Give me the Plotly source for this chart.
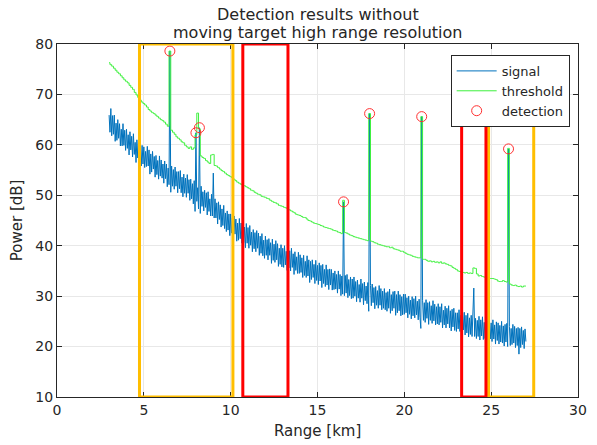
import plotly.graph_objects as go

# ---------------- data ----------------
SIGNAL_START_KM = 3.0
SIGNAL_STEP_KM = 0.05
THRESHOLD_START_KM = 3.0
THRESHOLD_STEP_KM = 0.1

SIGNAL_DB = [
    # 3.00 - 3.95
    65.9, 62.5, 67.2, 61.8, 65.8, 62.1, 65.9, 60.7, 64.3, 60.9,
    65.0, 61.3, 64.2, 59.8, 63.1, 59.8, 64.2, 59.9, 62.9, 58.9,
    # 4.00 - 4.95
    63.1, 59.3, 62.0, 58.0, 62.6, 59.0, 61.7, 57.6, 62.2, 58.1,
    60.5, 56.5, 61.0, 57.4, 61.0, 56.5, 59.8, 55.8, 59.9, 56.2,
    # 5.00 - 5.95
    59.6, 55.5, 58.7, 55.7, 59.7, 55.8, 59.0, 54.2, 58.2, 54.6,
    58.7, 55.2, 57.7, 53.6, 57.9, 54.1, 56.9, 53.2, 57.8, 53.8,
    # 6.00 - 6.95
    57.0, 53.4, 56.2, 52.4, 56.8, 53.3, 56.2, 51.7, 55.4, 52.1,
    78.6, 50.6, 55.8, 51.8, 55.1, 51.2, 55.6, 51.8, 54.7, 50.5,
    # 7.00 - 7.95
    54.7, 51.3, 54.9, 50.5, 53.6, 49.7, 54.2, 50.4, 53.4, 49.6,
    54.1, 50.4, 53.1, 49.0, 53.2, 49.3, 52.3, 48.3, 52.9, 46.8,
    # 8.00 - 8.95
    62.4, 48.8, 51.5, 47.3, 63.4, 46.4, 51.8, 47.8, 50.7, 46.9,
    51.0, 47.6, 50.5, 46.1, 50.7, 46.8, 49.3, 45.9, 50.2, 45.9,
    # 9.00 - 9.95
    54.4, 45.5, 49.3, 45.5, 48.5, 44.3, 48.7, 45.2, 48.1, 43.7,
    47.3, 44.0, 48.0, 43.4, 46.5, 42.8, 46.9, 43.1, 46.3, 42.0,
    # 10.00 - 10.95
    46.3, 42.5, 45.5, 41.5, 45.9, 42.3, 45.3, 40.9, 44.5, 41.1,
    45.4, 41.4, 44.5, 40.5, 44.5, 40.6, 43.7, 39.6, 44.4, 40.5,
    # 11.00 - 11.95
    43.6, 39.5, 44.0, 40.1, 42.7, 38.8, 43.2, 39.4, 42.6, 38.8,
    43.0, 39.5, 42.5, 38.1, 41.9, 38.5, 42.4, 38.0, 41.1, 37.5,
    # 12.00 - 12.95
    41.9, 38.1, 41.2, 37.2, 41.4, 38.1, 40.6, 36.5, 41.3, 37.1,
    40.3, 36.7, 41.0, 37.2, 40.4, 35.9, 39.5, 36.3, 40.2, 35.8,
    # 13.00 - 13.95
    39.5, 35.7, 40.0, 36.2, 38.9, 35.1, 39.4, 35.6, 39.0, 35.0,
    39.5, 35.7, 38.4, 34.3, 38.8, 35.1, 37.8, 34.5, 38.7, 34.5,
    # 14.00 - 14.95
    38.2, 34.7, 37.6, 33.7, 38.1, 34.1, 36.9, 33.7, 38.0, 34.0,
    37.2, 32.7, 36.9, 33.3, 37.2, 33.7, 36.3, 32.5, 37.1, 33.1,
    # 15.00 - 15.95
    36.1, 32.3, 36.6, 33.0, 36.1, 31.7, 36.3, 32.5, 35.3, 31.9,
    36.2, 32.2, 35.3, 31.3, 35.4, 32.2, 35.3, 31.2, 34.6, 31.3,
    # 16.00 - 16.95
    35.0, 31.4, 34.3, 30.6, 35.0, 31.4, 34.3, 30.1, 34.0, 30.4,
    48.7, 30.1, 34.1, 30.6, 34.3, 29.7, 33.3, 30.1, 33.8, 29.5,
    # 17.00 - 17.95
    33.4, 29.6, 33.8, 30.0, 32.9, 28.9, 33.2, 29.6, 32.3, 28.8,
    33.4, 29.6, 32.5, 28.3, 32.8, 29.1, 32.0, 28.5, 32.7, 27.0,
    # 18.00 - 18.95
    66.2, 32.1, 28.1, 32.4, 28.7, 31.7, 27.5, 31.9, 28.2, 31.1,
    27.6, 32.1, 28.2, 31.5, 27.3, 31.0, 27.6, 31.5, 27.3, 30.7,
    # 19.00 - 19.95
    27.0, 30.9, 27.6, 31.4, 26.6, 30.3, 27.1, 30.9, 27.6, 31.0,
    26.2, 30.3, 26.7, 31.0, 27.1, 30.3, 26.1, 29.9, 26.3, 30.4,
    # 20.00 - 20.95
    26.4, 30.4, 26.7, 29.7, 25.7, 30.0, 26.4, 29.2, 25.5, 29.9,
    26.1, 29.5, 25.7, 30.0, 26.3, 29.0, 25.3, 29.4, 25.8, 23.6,
    # 21.00 - 21.95
    65.6, 29.2, 25.2, 28.7, 24.8, 29.3, 25.6, 28.7, 24.4, 28.9,
    25.2, 28.1, 24.6, 29.1, 25.1, 28.4, 24.3, 27.9, 24.5, 28.5,
    # 22.00 - 22.95
    24.3, 27.9, 24.8, 28.5, 23.7, 27.2, 24.3, 28.0, 23.7, 27.6,
    24.5, 28.1, 23.7, 27.1, 23.1, 27.4, 23.9, 27.6, 23.2, 26.7,
    # 23.00 - 23.95
    23.0, 26.7, 23.5, 27.3, 23.0, 26.2, 22.5, 26.7, 23.3, 26.8,
    22.3, 26.2, 22.7, 26.6, 21.9, 25.7, 22.4, 26.2, 22.0, 25.8,
    # 24.00 - 24.95
    31.6, 22.0, 25.6, 21.6, 25.2, 22.0, 26.0, 21.3, 25.3, 22.1,
    25.9, 21.4, 24.8, 21.6, 25.8, 21.2, 25.1, 20.8, 24.7, 21.5,
    # 25.00 - 25.95
    24.7, 21.0, 25.3, 21.5, 24.3, 20.5, 24.9, 21.2, 24.7, 20.5,
    24.2, 20.9, 25.0, 20.7, 24.1, 20.1, 24.4, 20.9, 24.6, 20.0,
    # 26.00 - 26.95
    59.2, 24.0, 20.2, 23.6, 20.4, 24.4, 20.7, 24.0, 19.8, 23.6,
    20.2, 23.8, 18.5, 23.6, 19.8, 23.9, 20.4, 23.2, 19.6, 23.5,
    # 27.00
    21.0,
]

THRESHOLD_DB = [
    # 3.0 - 3.9
    76.3, 75.9, 75.6, 75.2, 74.8, 74.4, 74.1, 73.7, 73.3, 72.9,
    # 4.0 - 4.9
    72.6, 72.3, 71.8, 71.4, 71.0, 70.4, 69.9, 69.4, 68.9, 68.5,
    # 5.0 - 5.9
    68.2, 67.9, 67.5, 67.0, 66.7, 66.4, 66.2, 65.9, 65.6, 65.3,
    # 6.0 - 6.9
    65.0, 64.8, 64.5, 64.1, 63.7, 78.6, 62.9, 62.5, 62.1, 61.6,
    # 7.0 - 7.9
    61.3, 61.0, 60.6, 60.4, 59.9, 59.6, 59.3, 59.6, 59.1, 59.4,
    # 8.0 - 8.9
    62.0, 66.3, 63.2, 57.8, 57.5, 57.3, 56.9, 56.6, 56.3, 58.0,
    # 9.0 - 9.9
    58.1, 55.9, 55.8, 55.5, 55.2, 54.9, 54.7, 54.4, 54.1, 53.9,
    # 10.0 - 10.9
    53.7, 53.5, 53.2, 52.9, 52.6, 52.4, 52.2, 52.0, 51.9, 51.7,
    # 11.0 - 11.9
    51.5, 51.3, 51.0, 50.9, 50.6, 50.4, 50.2, 50.1, 49.8, 49.7,
    # 12.0 - 12.9
    49.6, 49.4, 49.3, 49.0, 48.8, 48.6, 48.5, 48.3, 48.0, 47.9,
    # 13.0 - 13.9
    47.8, 47.6, 47.5, 47.3, 47.1, 46.9, 46.7, 46.5, 46.2, 46.1,
    # 14.0 - 14.9
    46.0, 45.8, 45.6, 45.6, 45.3, 45.0, 44.9, 44.7, 44.5, 44.4,
    # 15.0 - 15.9
    44.3, 44.2, 44.0, 43.9, 43.7, 43.6, 43.5, 43.4, 43.3, 43.1,
    # 16.0 - 16.9
    43.0, 42.9, 42.7, 42.6, 42.4, 49.0, 42.6, 42.5, 42.3, 42.1,
    # 17.0 - 17.9
    42.0, 41.8, 41.7, 41.6, 41.5, 41.4, 41.3, 41.2, 41.1, 41.0,
    # 18.0 - 18.9
    66.2, 40.9, 40.8, 40.6, 40.5, 40.3, 40.2, 40.1, 40.0, 39.9,
    # 19.0 - 19.9
    39.8, 39.8, 39.6, 39.7, 39.4, 39.3, 39.2, 39.1, 38.9, 38.9,
    # 20.0 - 20.9
    38.7, 38.5, 38.3, 38.2, 38.1, 37.9, 37.8, 37.7, 37.6, 37.6,
    # 21.0 - 21.9
    65.6, 37.3, 37.3, 37.1, 36.9, 37.0, 36.8, 36.9, 36.7, 36.8,
    # 22.0 - 22.9
    36.6, 36.8, 36.5, 36.6, 36.4, 36.3, 36.1, 36.0, 35.7, 35.5,
    # 23.0 - 23.9
    35.3, 35.0, 34.9, 34.7, 34.7, 34.6, 34.7, 34.5, 34.6, 34.5,
    # 24.0 - 24.9
    35.6, 35.5, 34.4, 34.0, 34.1, 33.9, 33.8, 33.7, 33.6, 33.5,
    # 25.0 - 25.9
    33.5, 33.5, 33.4, 33.3, 33.0, 32.9, 32.9, 33.1, 32.9, 32.8,
    # 26.0 - 26.9
    59.3, 32.4, 32.2, 32.1, 32.2, 32.0, 31.9, 32.0, 31.8, 32.0,
    # 27.0
    32.0,
]

DETECTION_KM = [6.5, 8.0, 8.2, 16.5, 18.0, 21.0, 26.0]
DETECTION_DB = [78.6, 62.4, 63.4, 48.7, 66.2, 65.6, 59.2]

X_TICKS = [0, 5, 10, 15, 20, 25, 30]
Y_TICKS = [10, 20, 30, 40, 50, 60, 70, 80]

# highlighted regions drawn on the figure: (x0, x1, y0, y1) in km / dB
ORANGE_REGIONS = [(4.75, 10.13, 10, 80), (24.85, 27.45, 10, 66.5)]
RED_REGIONS = [(10.7, 13.3, 10, 80), (23.3, 24.7, 10, 66.5)]

TITLE_LINES = ["Detection results without", "moving target high range resolution"]
X_LABEL = "Range [km]"
Y_LABEL = "Power [dB]"

# ---------------- figure ----------------
signal_km = [round(SIGNAL_START_KM + i * SIGNAL_STEP_KM, 3) for i in range(len(SIGNAL_DB))]
threshold_km = [round(THRESHOLD_START_KM + i * THRESHOLD_STEP_KM, 3) for i in range(len(THRESHOLD_DB))]

FONT = "DejaVu Sans, Noto Sans, sans-serif"
TXT = "#262626"

fig = go.Figure()
fig.add_trace(go.Scatter(
    x=signal_km, y=SIGNAL_DB, mode="lines", name="signal",
    line=dict(color="#0072BD", width=1),
))
fig.add_trace(go.Scatter(
    x=threshold_km, y=THRESHOLD_DB, mode="lines", name="threshold",
    line=dict(color="#3cf03c", width=1, shape="hvh"),
))
fig.add_trace(go.Scatter(
    x=DETECTION_KM, y=DETECTION_DB, mode="markers", name="detection",
    marker=dict(symbol="circle-open", size=10, color="#ff3030", line=dict(width=1)),
))

for regions, color in ((ORANGE_REGIONS, "#FFBE00"), (RED_REGIONS, "#FF0000")):
    for x0, x1, y0, y1 in regions:
        fig.add_shape(type="rect", xref="x", yref="y", x0=x0, x1=x1, y0=y0, y1=y1,
                      line=dict(color=color, width=3), fillcolor="rgba(0,0,0,0)",
                      layer="above")

axis_common = dict(
    showgrid=True, gridcolor="#e8e8e8", gridwidth=1,
    showline=True, linecolor=TXT, linewidth=1, mirror="ticks",
    ticks="inside", ticklen=5, tickcolor=TXT,
    tickfont=dict(family=FONT, size=14, color=TXT),
    zeroline=False,
)

PLOT_W = 597 - 57 - 10
PLOT_H = 445 - 44 - 48

annotations = [
    dict(text=TITLE_LINES[0], x=0.5, y=1 + 30 / PLOT_H),
    dict(text=TITLE_LINES[1], x=0.5, y=1 + 12 / PLOT_H),
]
annotations = [dict(a, xref="paper", yref="paper", xanchor="center", yanchor="middle",
                    showarrow=False, font=dict(family=FONT, size=16, color=TXT))
               for a in annotations]
annotations.append(dict(text=X_LABEL, x=0.5, y=-34 / PLOT_H, xref="paper", yref="paper",
                        xanchor="center", yanchor="middle", showarrow=False,
                        font=dict(family=FONT, size=15, color=TXT)))
annotations.append(dict(text=Y_LABEL, x=-41 / PLOT_W, y=0.5, xref="paper", yref="paper",
                        xanchor="center", yanchor="middle", showarrow=False, textangle=-90,
                        font=dict(family=FONT, size=15, color=TXT)))

fig.update_layout(
    width=597, height=445,
    margin=dict(l=57, r=10, t=44, b=48),
    paper_bgcolor="white", plot_bgcolor="white",
    xaxis=dict(range=[0, 30], tickvals=X_TICKS, **axis_common),
    yaxis=dict(range=[10, 80], tickvals=Y_TICKS, **axis_common),
    legend=dict(x=0.984, xanchor="right", y=0.969, yanchor="top",
                bgcolor="white", bordercolor=TXT, borderwidth=1,
                font=dict(family=FONT, size=13, color=TXT),
                tracegroupgap=0, itemwidth=40),
    showlegend=True,
    annotations=annotations,
)

# remove the browser's default 8px body margin so the figure fills the window
fig.write_html("out.html",
               config={"displayModeBar": False},
               post_script="document.body.style.margin='0';document.body.style.overflow='hidden';")
